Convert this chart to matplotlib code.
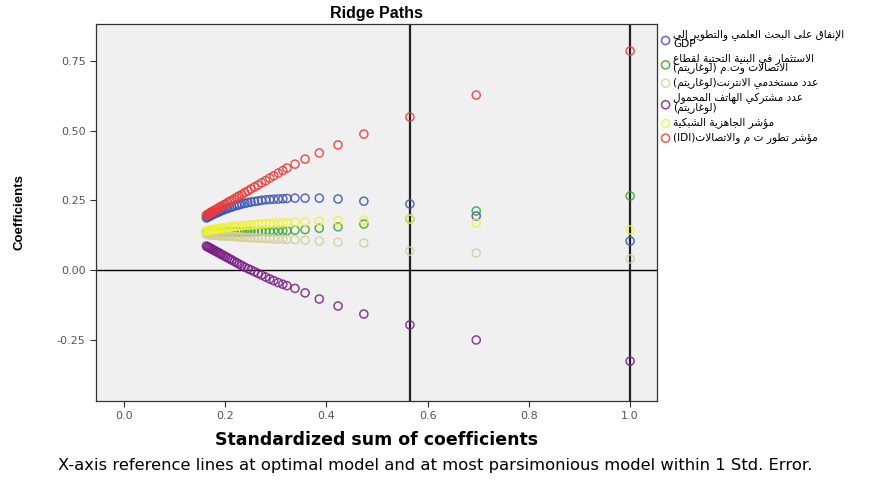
import matplotlib
matplotlib.use('Agg')
import matplotlib.pyplot as plt

# standardized sum of coefficients (x) for every ridge step
x = [0.163, 0.165, 0.167, 0.169, 0.171, 0.173, 0.175, 0.178, 0.181, 0.184,
     0.187, 0.190, 0.193, 0.197, 0.201, 0.205, 0.209, 0.213, 0.218, 0.223,
     0.228, 0.233, 0.239, 0.245, 0.251, 0.258, 0.265, 0.272, 0.280, 0.288,
     0.296, 0.305, 0.314, 0.322, 0.338, 0.358, 0.386, 0.423, 0.474, 0.565,
     0.696, 1.000]

gdp = [0.187, 0.189, 0.191, 0.193, 0.195, 0.197, 0.199, 0.201, 0.204, 0.206,
       0.208, 0.211, 0.213, 0.216, 0.219, 0.221, 0.224, 0.226, 0.229, 0.232,
       0.234, 0.237, 0.239, 0.242, 0.244, 0.246, 0.248, 0.250, 0.252, 0.253,
       0.254, 0.255, 0.256, 0.257, 0.258, 0.258, 0.258, 0.255, 0.247, 0.237,
       0.194, 0.104]
invest = [0.138, 0.138, 0.138, 0.138, 0.138, 0.137, 0.137, 0.137, 0.137, 0.137,
          0.137, 0.137, 0.137, 0.137, 0.137, 0.137, 0.137, 0.137, 0.137, 0.137,
          0.137, 0.137, 0.137, 0.138, 0.138, 0.138, 0.138, 0.139, 0.139, 0.139,
          0.140, 0.140, 0.141, 0.141, 0.143, 0.145, 0.150, 0.155, 0.165, 0.183,
          0.212, 0.266]
internet = [0.128, 0.128, 0.127, 0.127, 0.127, 0.126, 0.126, 0.126, 0.125, 0.125,
            0.124, 0.124, 0.123, 0.123, 0.122, 0.122, 0.121, 0.121, 0.120, 0.119,
            0.119, 0.118, 0.117, 0.117, 0.116, 0.115, 0.115, 0.114, 0.113, 0.113,
            0.112, 0.111, 0.111, 0.110, 0.109, 0.107, 0.104, 0.100, 0.097, 0.068,
            0.061, 0.040]
mobile = [0.086, 0.084, 0.082, 0.080, 0.078, 0.076, 0.074, 0.071, 0.068, 0.065,
          0.062, 0.059, 0.056, 0.052, 0.048, 0.044, 0.040, 0.036, 0.031, 0.026,
          0.021, 0.016, 0.010, 0.005, 0.000, -0.006, -0.012, -0.018, -0.025, -0.032,
          -0.038, -0.045, -0.051, -0.056, -0.066, -0.082, -0.104, -0.129, -0.158, -0.197,
          -0.251, -0.327]
readiness = [0.140, 0.141, 0.142, 0.143, 0.143, 0.144, 0.145, 0.146, 0.147, 0.148,
             0.149, 0.150, 0.150, 0.151, 0.152, 0.153, 0.154, 0.155, 0.156, 0.157,
             0.158, 0.159, 0.160, 0.161, 0.162, 0.163, 0.164, 0.165, 0.166, 0.167,
             0.168, 0.168, 0.169, 0.170, 0.172, 0.173, 0.175, 0.177, 0.178, 0.183,
             0.169, 0.144]
idi = [0.197, 0.199, 0.201, 0.203, 0.206, 0.208, 0.210, 0.213, 0.216, 0.219,
       0.223, 0.226, 0.229, 0.233, 0.237, 0.242, 0.246, 0.250, 0.255, 0.261,
       0.266, 0.271, 0.278, 0.284, 0.291, 0.298, 0.305, 0.313, 0.321, 0.330,
       0.338, 0.348, 0.357, 0.366, 0.380, 0.398, 0.420, 0.449, 0.488, 0.549,
       0.628, 0.786]

ref_lines = [0.565, 1.0]

# --- tiny Arabic shaper (matplotlib has no bidi / joining support) ---
AR = {'آ': (0xFE81, 2), 'أ': (0xFE83, 2), 'ؤ': (0xFE85, 2), 'إ': (0xFE87, 2),
      'ئ': (0xFE89, 4), 'ا': (0xFE8D, 2), 'ب': (0xFE8F, 4), 'ة': (0xFE93, 2),
      'ت': (0xFE95, 4), 'ث': (0xFE99, 4), 'ج': (0xFE9D, 4), 'ح': (0xFEA1, 4),
      'خ': (0xFEA5, 4), 'د': (0xFEA9, 2), 'ذ': (0xFEAB, 2), 'ر': (0xFEAD, 2),
      'ز': (0xFEAF, 2), 'س': (0xFEB1, 4), 'ش': (0xFEB5, 4), 'ص': (0xFEB9, 4),
      'ض': (0xFEBD, 4), 'ط': (0xFEC1, 4), 'ظ': (0xFEC5, 4), 'ع': (0xFEC9, 4),
      'غ': (0xFECD, 4), 'ف': (0xFED1, 4), 'ق': (0xFED5, 4), 'ك': (0xFED9, 4),
      'ل': (0xFEDD, 4), 'م': (0xFEE1, 4), 'ن': (0xFEE5, 4), 'ه': (0xFEE9, 4),
      'و': (0xFEED, 2), 'ى': (0xFEEF, 2), 'ي': (0xFEF1, 4)}
LAM_ALEF = {'آ': 0xFEF5, 'أ': 0xFEF7, 'إ': 0xFEF9, 'ا': 0xFEFB}
MIRROR = {'(': ')', ')': '('}


def rtl(text):
    chars = []
    i = 0
    while i < len(text):
        c = text[i]
        if c == 'ل' and i + 1 < len(text) and text[i + 1] in LAM_ALEF:
            chars.append(('LA', LAM_ALEF[text[i + 1]]))
            i += 2
        else:
            chars.append((c, None))
            i += 1
    out = []
    for k, (c, la) in enumerate(chars):
        prev = chars[k - 1][0] if k > 0 else None
        nxt = chars[k + 1][0] if k + 1 < len(chars) else None
        join_prev = prev in AR and AR[prev][1] == 4
        if la is not None:
            out.append(chr(la + (1 if join_prev else 0)))
            continue
        if c not in AR:
            out.append(MIRROR.get(c, c))
            continue
        base, n = AR[c]
        join_next = n == 4 and (nxt in AR or nxt == 'LA')
        if join_prev and join_next:
            out.append(chr(base + 3))
        elif join_prev:
            out.append(chr(base + 1))
        elif join_next:
            out.append(chr(base + 2))
        else:
            out.append(chr(base))
    return ''.join(reversed(out))


labels = [
    rtl('الإنفاق على البحث العلمي والتطوير إلى') + '\nGDP',
    rtl('الاستثمار في البنية التحتية لقطاع') + '\n' + rtl('الاتصالات وت.م (لوغاريتم)'),
    rtl('عدد مستخدمي الانترنت(لوغاريتم)'),
    rtl('عدد مشتركي الهاتف المحمول') + '\n' + rtl('(لوغاريتم)'),
    rtl('مؤشر الجاهزية الشبكية'),
    '(IDI)' + rtl('مؤشر تطور ت م والاتصالات'),
]
series = [gdp, invest, internet, mobile, readiness, idi]
colors = ['#3d55b5', '#34a834', '#d6cf9c', '#7a1f86', '#f2f23a', '#ee3a3a']

sans = ['Liberation Sans', 'DejaVu Sans']

fig = plt.figure(figsize=(8.69, 4.8), dpi=100)
ax = fig.add_axes([0.1105, 0.1646, 0.6455, 0.7854])
ax.set_facecolor('#f0f0f0')

ax.axhline(0, color='black', lw=1.0, zorder=1)
for r in ref_lines:
    ax.axvline(r, color='#222222', lw=1.6, zorder=1)

for ys, c, lab in zip(series, colors, labels):
    ax.scatter(x, ys, s=34, facecolors='none', edgecolors=c, linewidths=1.1,
               alpha=0.85, label=lab, zorder=3)

ax.set_xlim(-0.055, 1.053)
ax.set_ylim(-0.47, 0.883)
ax.set_xticks([0.0, 0.2, 0.4, 0.6, 0.8, 1.0])
ax.set_yticks([-0.25, 0.0, 0.25, 0.5, 0.75])
ax.set_xticklabels(['0.0', '0.2', '0.4', '0.6', '0.8', '1.0'])
ax.set_yticklabels(['-0.25', '0.00', '0.25', '0.50', '0.75'])
ax.tick_params(labelsize=8, colors='#333333', labelcolor='#555555', length=4)
for sp in ax.spines.values():
    sp.set_color('#333333')
    sp.set_linewidth(0.9)

ax.set_title('Ridge Paths', fontsize=11.5, fontweight='bold', pad=4, family=sans)
ax.set_xlabel('Standardized sum of coefficients', fontsize=12.5, fontweight='bold')
ax.xaxis.set_label_coords(0.5, -0.08)
ax.set_ylabel('Coefficients', fontsize=9.5, fontweight='bold', family=sans)
ax.yaxis.set_label_coords(-0.125, 0.5)

leg = fig.legend(loc='upper left', bbox_to_anchor=(0.755, 0.948), frameon=False,
                 prop={'family': 'DejaVu Sans', 'size': 7.6}, handletextpad=0.2,
                 labelspacing=0.35, borderaxespad=0, handlelength=1.0,
                 scatterpoints=1)
for t in leg.get_texts():
    t.set_linespacing(0.9)

fig.text(0.067, 0.031, 'X-axis reference lines at optimal model and at most parsimonious '
         'model within 1 Std. Error.', fontsize=11.8, va='center')

fig.savefig('out.png', dpi=100)
